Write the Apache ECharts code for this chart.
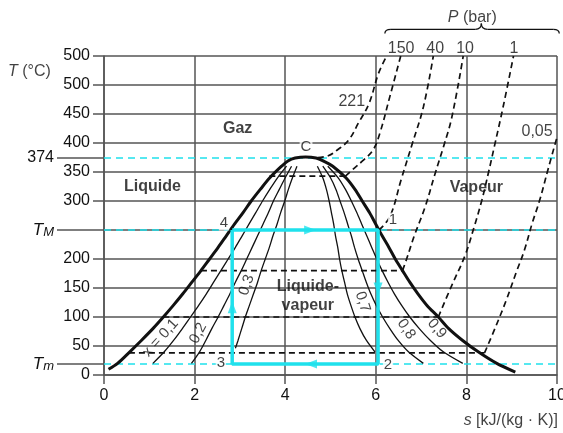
<!DOCTYPE html>
<html><head><meta charset="utf-8">
<script src="https://cdn.jsdelivr.net/npm/echarts@6/dist/echarts.min.js"></script>
<style>html,body{margin:0;padding:0;background:#fff}#c{width:563px;height:433px}</style>
</head><body><div id="c"></div>
<script>
const FONT = '"Liberation Sans", Arial, Helvetica, sans-serif';
const BLACK = '#111', GRID = '#555', CYAN = '#1fe1ec', TEXT = '#111';

// axis ticks
const xTicks = [0, 2, 4, 6, 8, 10];
const yTickLabels = ['0','50','100','150','200','','300','350','400','450','500','500'];
const specialT = [19, 250, 374];
const specialLabels = ['{i|T}{s|m}', '{i|T}{s|M}', '374'];

// saturation dome (s, T)
const saturation = [[0.10,10],[0.30,20],[0.57,40],[0.83,60],[1.08,80],[1.31,100],[1.53,120],[1.74,140],[1.94,160],[2.14,180],[2.33,200],[2.52,220],[2.70,240],[2.88,260],[3.07,280],[3.25,300],[3.45,320],[3.66,340],[3.92,360],[4.06,369],[4.22,374],[4.45,376],[4.68,374],[4.87,368],[5.05,360],[5.34,340],[5.54,320],[5.70,300],[5.86,280],[6.00,260],[6.14,240],[6.29,220],[6.43,200],[6.59,180],[6.75,160],[6.93,140],[7.13,120],[7.38,100],[7.61,80],[7.91,60],[8.26,40],[8.67,20],[9.08,5]];

// quality lines x
const quality01 = [[1.08,20],[1.33,40],[1.54,60],[1.73,80],[1.91,100],[2.09,120],[2.26,140],[2.42,160],[2.58,180],[2.74,200],[2.90,220],[3.05,240],[3.20,260],[3.35,280],[3.50,300],[3.66,320],[3.83,340],[4.03,360]];
const quality02 = [[1.93,20],[2.11,40],[2.25,60],[2.38,80],[2.52,100],[2.65,120],[2.78,140],[2.90,160],[3.03,180],[3.15,200],[3.27,220],[3.39,240],[3.51,260],[3.63,280],[3.74,300],[3.87,320],[4.00,340],[4.14,360]];
const quality03 = [[2.90,46],[2.96,60],[3.04,80],[3.12,100],[3.21,120],[3.30,140],[3.39,160],[3.47,180],[3.56,200],[3.65,220],[3.73,240],[3.82,260],[3.90,280],[3.99,300],[4.07,320],[4.16,340],[4.26,360]];
const quality07 = [[5.98,40],[5.79,60],[5.65,80],[5.54,100],[5.45,120],[5.37,140],[5.31,160],[5.25,180],[5.20,200],[5.16,220],[5.11,240],[5.07,260],[5.02,280],[4.97,300],[4.91,320],[4.83,340],[4.71,360]];
const quality08 = [[7.05,20],[6.72,40],[6.49,60],[6.31,80],[6.15,100],[6.01,120],[5.89,140],[5.79,160],[5.70,180],[5.61,200],[5.53,220],[5.46,240],[5.38,260],[5.30,280],[5.21,300],[5.12,320],[5.00,340],[4.83,360]];
const quality09 = [[7.92,20],[7.49,40],[7.20,60],[6.96,80],[6.75,100],[6.57,120],[6.41,140],[6.27,160],[6.14,180],[6.02,200],[5.91,220],[5.80,240],[5.69,260],[5.58,280],[5.46,300],[5.33,320],[5.17,340],[4.94,360]];

// isobars: inside the dome [s_liquid, s_vapour, T_sat]
const domeIsobars = [[3.65,5.33,343],[2.79,6.07,250],[2.14,6.59,180],[1.31,7.38,100],[0.55,8.40,38]];
// isobars in the vapour / gas region
const isobar221 = [[4.72,375],[4.95,378],[5.15,388],[5.40,405],[5.62,435],[5.85,468],[6.06,520],[6.24,550]];
const isobar150 = [[5.33,343],[5.50,355],[5.72,370],[5.94,388],[6.09,417],[6.31,480],[6.55,550]];
const isobar40  = [[6.07,250],[6.31,273],[6.56,337],[6.81,400],[7.05,462],[7.27,550]];
const isobar10  = [[6.59,180],[6.68,200],[6.85,240],[7.09,290],[7.30,345],[7.50,395],[7.68,445],[7.93,550]];
const isobar1   = [[7.38,100],[7.68,155],[7.97,206],[8.17,255],[8.34,301],[8.49,350],[8.62,395],[8.81,462],[9.04,550]];
const isobar005 = [[8.40,38],[8.65,84],[8.88,129],[9.10,177],[9.28,215],[9.45,261],[9.62,302],[9.80,354],[10.0,410]];

// Carnot cycle 4-1-2-3
const cycle = [[2.83,250],[6.05,250],[6.05,19],[2.83,19],[2.83,250]];
const cycleArrows = [[4.55,250,-90],[6.05,149,180],[4.57,19,90],[2.83,117,0]];
const cyanLevels = [374, 250, 19];

// annotations [text, s, T]
const regionLabels = [['Gaz',2.95,424],['Liquide',1.07,324],['Vapeur',8.22,323],['Liquide-\nvapeur',4.50,136]];
const pointLabels = [['C',4.46,393],['4',2.65,262],['1',6.38,267],['3',2.58,21],['2',6.27,18]];
const qualityLabels = [['x = 0,1',1.25,64,48],['0,2',2.08,72,62],['0,3',3.15,155,71],['0,7',5.71,126,-72],['0,8',6.67,79,-56],['0,9',7.35,80,-50]];
const pressureLabels = [['150',6.56,563],['40',7.31,563],['10',7.97,563],['1',9.05,563],['221',5.47,471],['0,05',9.56,420]];
const braceS = [6.20, 8.33, 10.05];
const braceT = [589, 596, 606];

const chart = echarts.init(document.getElementById('c'), null, {renderer: 'canvas'});

function line(data, style, z, smooth) {
  return {type: 'line', data: data, symbol: 'none', silent: true, animation: false,
          lineStyle: style, z: z, smooth: smooth || false, clip: false};
}
const dashed = {color: BLACK, width: 1.7, type: [6, 4]};
const series = [];
cyanLevels.forEach(T => series.push(line([[0, T], [10, T]], {color: CYAN, width: 1.5, type: [7, 5]}, 2)));
domeIsobars.forEach(d => series.push(line([[d[0], d[2]], [d[1], d[2]]], dashed, 3)));
[isobar221, isobar150, isobar40, isobar10, isobar1, isobar005].forEach(d => series.push(line(d, dashed, 3, 0.4)));
[quality01, quality02, quality03, quality07, quality08, quality09].forEach(d => series.push(line(d, {color: BLACK, width: 1.3}, 4, 0.3)));
series.push(line(saturation, {color: BLACK, width: 3}, 5, 0.3));
series.push(line(cycle, {color: CYAN, width: 3.5}, 6));
series.push({type: 'scatter', silent: true, animation: false, z: 7, symbol: 'triangle', symbolSize: [9, 12],
  itemStyle: {color: CYAN},
  data: cycleArrows.map(a => ({value: [a[0], a[1]], symbolRotate: a[2]}))});

function labelItem(text, s, T, extra) {
  return {value: [s, T], label: Object.assign({show: true, formatter: text, position: 'inside',
    fontFamily: FONT, fontSize: 15, color: TEXT}, extra || {})};
}
const italicRich = {i: {fontStyle: 'italic', fontSize: 16, fontFamily: FONT, color: TEXT}};
const labelData = [];
regionLabels.forEach(l => labelData.push(labelItem(l[0], l[1], l[2], {fontWeight: 'bold', fontSize: 16, lineHeight: 19})));
pointLabels.forEach(l => labelData.push(labelItem(l[0], l[1], l[2], {backgroundColor: '#fff', padding: [0, 1]})));
qualityLabels.forEach(l => labelData.push(labelItem(l[0], l[1], l[2], {rotate: l[3]})));
pressureLabels.forEach(l => labelData.push(labelItem(l[0], l[1], l[2], {fontSize: 16})));
labelData.push(labelItem('{i|T} (°C)', -2.12, 523, {align: 'left', fontSize: 16, rich: italicRich}));
labelData.push(labelItem('{i|P} (bar)', 8.13, 616, {fontSize: 16, rich: italicRich}));
labelData.push(labelItem('{i|s} [kJ/(kg · K)]', 10.02, -79, {align: 'right', fontSize: 16, rich: italicRich}));
series.push({type: 'scatter', silent: true, animation: false, z: 8, symbolSize: 1, clip: false,
  itemStyle: {color: 'rgba(0,0,0,0)'}, data: labelData});

const axisLineStyle = {color: GRID, width: 1.5};
chart.setOption({
  animation: false,
  backgroundColor: '#fff',
  grid: {left: 104, right: 6, top: 56, bottom: 58, outerBoundsMode: 'none', containLabel: false},
  xAxis: {type: 'value', min: xTicks[0], max: xTicks[xTicks.length - 1], interval: 2,
    axisLine: {show: true, onZero: false, lineStyle: axisLineStyle},
    axisTick: {show: true, length: 9, lineStyle: axisLineStyle},
    axisLabel: {margin: 13, fontSize: 16, fontFamily: FONT, color: TEXT},
    splitLine: {show: true, lineStyle: axisLineStyle}},
  yAxis: [
    {type: 'value', min: 0, max: 550, interval: 50,
      axisLine: {show: true, onZero: false, lineStyle: axisLineStyle},
      axisTick: {show: true, length: 11, lineStyle: axisLineStyle},
      axisLabel: {margin: 14, fontSize: 16, fontFamily: FONT, color: TEXT,
        formatter: v => yTickLabels[Math.round(v / 50)]},
      splitLine: {show: true, lineStyle: axisLineStyle}},
    {type: 'value', min: 0, max: 550, position: 'left', offset: 0,
      axisLine: {show: false},
      axisTick: {show: true, length: 47, customValues: specialT, lineStyle: axisLineStyle},
      axisLabel: {show: true, margin: 50, customValues: specialT, fontSize: 16, fontFamily: FONT, color: TEXT,
        formatter: v => specialLabels[specialT.indexOf(v)],
        rich: {
          i: {fontStyle: 'italic', fontSize: 17, fontFamily: FONT, color: TEXT, lineHeight: 17, verticalAlign: 'top'},
          s: {fontStyle: 'italic', fontSize: 13, fontFamily: FONT, color: TEXT, lineHeight: 13, verticalAlign: 'bottom', padding: [8, 0, 0, 0]}
        }},
      splitLine: {show: false}}
  ],
  series: series
});

// curly brace above the pressure labels
const p = (s, T) => chart.convertToPixel({xAxisIndex: 0, yAxisIndex: 0}, [s, T]);
const L = p(braceS[0], braceT[0]), Lh = p(braceS[0], braceT[1]);
const M = p(braceS[1], braceT[2]), Mh = p(braceS[1], braceT[1]);
const R = p(braceS[2], braceT[0]), Rh = p(braceS[2], braceT[1]);
const r = 6, yh = Lh[1];
const bStyle = {stroke: BLACK, lineWidth: 1.3, fill: null};
const bez = (x1, y1, cx, cy, x2, y2) => ({type: 'bezierCurve', silent: true, shape: {x1: x1, y1: y1, cpx1: cx, cpy1: cy, x2: x2, y2: y2}, style: bStyle});
const seg = (x1, y1, x2, y2) => ({type: 'line', silent: true, shape: {x1: x1, y1: y1, x2: x2, y2: y2}, style: bStyle});
chart.setOption({graphic: [
  bez(L[0], L[1], Lh[0], yh, Lh[0] + r, yh),
  seg(Lh[0] + r, yh, Mh[0] - r, yh),
  bez(Mh[0] - r, yh, Mh[0], yh, M[0], M[1]),
  bez(M[0], M[1], Mh[0], yh, Mh[0] + r, yh),
  seg(Mh[0] + r, yh, Rh[0] - r, yh),
  bez(Rh[0] - r, yh, Rh[0], yh, R[0], R[1])
]});
</script>
</body></html>
